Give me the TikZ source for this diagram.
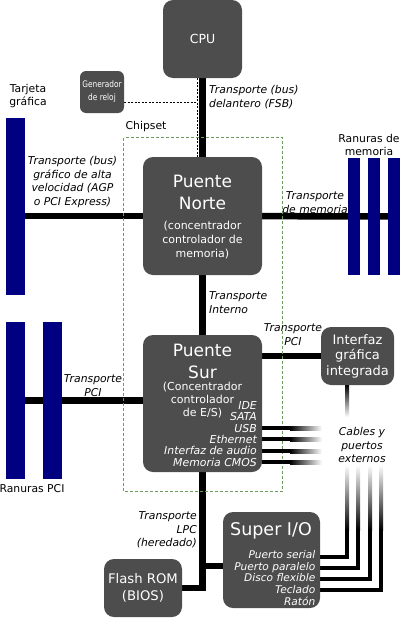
\documentclass[tikz,border=0pt]{standalone}
\usepackage{fontspec}
\setmainfont{DejaVu Sans}
\newfontfamily\condfont[FakeStretch=0.82]{DejaVu Sans}
\usepackage{xcolor}
\usepackage{tikz}
\usetikzlibrary{backgrounds}
\definecolor{boxgray}{HTML}{4D4D4D}
\definecolor{slotblue}{HTML}{000080}
\definecolor{chipgreen}{HTML}{6A9A5E}

\begin{document}
\begin{tikzpicture}[x=1pt,y=-1pt,
  chip/.style={rectangle,rounded corners=10pt,fill=boxgray,text=white,inner sep=0pt,align=center},
  slot/.style={rectangle,fill=slotblue,inner sep=0pt},
  big/.style={font=\fontsize{17}{22}\selectfont,text=white,align=center,inner sep=0pt},
  sub/.style={font=\fontsize{11}{14}\selectfont,text=white,align=center,inner sep=0pt},
  items/.style={font=\fontsize{10.9}{11.3}\selectfont\itshape,text=white,align=right,anchor=east,inner sep=0pt},
  lbl/.style={font=\fontsize{10.8}{13.7}\selectfont\itshape,align=center,inner sep=0pt},
  note/.style={font=\fontsize{10.8}{13.5}\selectfont,align=center,inner sep=0pt},
  bus/.style={line width=6.5pt},
  wire/.style={line width=4pt},
  clock/.style={dash pattern=on 2pt off 1.5pt,line width=0.8pt},
  chipset/.style={chipgreen,dash pattern=on 3pt off 2pt,line width=0.8pt}]
\useasboundingbox (0,0) rectangle (400,618);

% Boxes
\node[chip,minimum width=79,minimum height=78,font=\fontsize{12.5}{15}\selectfont] (cpu) at (202.5,39) {CPU};
\node[chip,rounded corners=6pt,minimum width=44,minimum height=42,font=\condfont\fontsize{9}{13}\selectfont] (reloj) at (102,92) {Generador\\de reloj};
\node[chip,minimum width=119,minimum height=118] (pn) at (202.5,216) {};
\node[chip,minimum width=119,minimum height=137] (ps) at (202.5,403.5) {};
\node[chip,minimum width=73,minimum height=58,font=\fontsize{13}{15.5}\selectfont] (igi) at (357.5,356) {Interfaz\\gráfica\\integrada};
\node[chip,minimum width=97,minimum height=96] (sio) at (271.5,560) {};
\node[chip,minimum width=78,minimum height=58,font=\fontsize{13.2}{17}\selectfont] (rom) at (143,588) {Flash ROM\\(BIOS)};

% Text inside the bridges and the Super I/O
\node[big] (pntitle) at (202.5,192) {Puente\\Norte};
\node[sub] (pnsub) at (202.5,240) {(concentrador\\controlador de\\memoria)};
\node[big] (pstitle) at (202.5,361) {Puente\\Sur};
\node[sub,font=\fontsize{11}{13.3}\selectfont] (pssub) at (202.5,400) {(Concentrador\\controlador\\de E/S)};
\node[items] (pslist) at (257,434) {IDE\\SATA\\USB\\Ethernet\\Interfaz de audio\\Memoria CMOS};
\node[big,font=\fontsize{17.5}{22}\selectfont] (siotitle) at (271,531) {Super I/O};
\node[items,font=\fontsize{10.6}{11.8}\selectfont\itshape] (siolist) at (315.5,578) {Puerto serial\\Puerto paralelo\\Disco flexible\\Teclado\\Ratón};

% Slots
\node[slot,minimum width=19,minimum height=177] (agp) at (15.5,206.5) {};
\foreach \i/\x in {1/354,2/374,3/394}
  \node[slot,minimum width=12,minimum height=117] (mem\i) at (\x,216.5) {};
\foreach \i/\x in {1/15.5,2/52.5}
  \node[slot,minimum width=19,minimum height=157] (pci\i) at (\x,400.5) {};

% Labels
\node[note] (tarjeta) at (28,96) {Tarjeta\\gráfica};
\node[lbl,align=left,anchor=west] (fsblbl) at (209,97) {Transporte (bus)\\delantero (FSB)};
\node[note] (chipsetlbl) at (146,127) {Chipset};
\node[lbl] (agplbl) at (72.5,182) {Transporte (bus)\\gráfico de alta\\velocidad (AGP\\o PCI Express)};
\node[note] (ranmem) at (369,145) {Ranuras de\\memoria};
\node[lbl] (memlbl) at (315,202.5) {Transporte\\de memoria};
\node[lbl,align=left,anchor=west] (intlbl) at (209,302.5) {Transporte\\Interno};
\node[lbl] (pcilbl) at (93,385.5) {Transporte\\PCI};
\node[lbl] (igilbl) at (293,334.5) {Transporte\\PCI};
\node[note] (ranpci) at (32,489) {Ranuras PCI};
\node[lbl] (cables) at (362,445) {Cables y\\puertos\\externos};
\node[lbl,align=right,anchor=east] (lpclbl) at (197,530) {Transporte\\LPC\\(heredado)};

\begin{scope}[on background layer]
% Buses
\draw[bus] (cpu) -- (pn);
\draw[bus] (pn) -- (ps);
\draw[bus] (agp.center |- pn) -- (pn);
\draw[bus] (pn) -- (mem3);
\draw[bus] (pci1) -- (ps.center |- pci1);
\draw[bus] (ps.east |- igi) -- (igi);
\draw[bus] (ps) |- (rom);
\draw[bus] ([yshift=-6pt]sio.west) -- ([yshift=-6pt]sio.west -| ps.south);

% Clock signal
\coordinate (clk) at (197,0);
\draw[clock] (cpu.south -| clk) -- (pn.north -| clk);
\draw[clock] ([yshift=-10pt]reloj.east) -- ([yshift=-10pt]reloj.east -| clk);

% Chipset frame
\draw[chipset] (123.5,137.5) rectangle (282,491.5);

% External cables
\foreach \y in {428,439,451,462} {
  \draw[wire] (ps.east |- 0,\y) -- (290,\y);
  \shade[left color=black,right color=white] (290,\y-2) rectangle (322,\y+2);
}
\shade[top color=black,bottom color=white] (345,385) rectangle (349,417);
\foreach \y/\x in {557/347,568/358,579/370,590/381} {
  \draw[wire] (sio.east |- 0,\y) -| (\x,530);
  \shade[top color=white,bottom color=black] (\x-2,465) rectangle (\x+2,530);
}
\end{scope}
\end{tikzpicture}
\end{document}
